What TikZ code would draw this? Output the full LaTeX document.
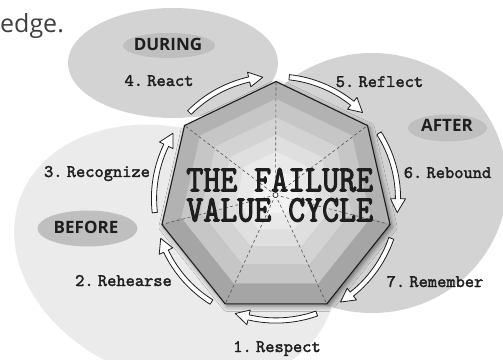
\documentclass[tikz,border=0pt]{standalone}
\usepackage{fontspec}
\setmainfont{Open Sans}
\newfontfamily\slabfont[FakeBold=2]{lmmono10-regular.otf}
\newfontfamily\titlefont[FakeStretch=0.86,FakeBold=2.6]{lmmono10-regular.otf}
\newcommand\steptype{\slabfont\fontsize{17.6}{20}\selectfont\spaceskip=1.2pt\relax}
\usetikzlibrary{calc,shadows.blur}

\definecolor{zoneDark}{HTML}{D3D3D3}
\definecolor{zoneLight}{HTML}{EBEBEB}
\definecolor{pillGray}{HTML}{BFBFBF}
\definecolor{ink}{HTML}{1E1E1E}
\definecolor{leadInk}{HTML}{404040}
\definecolor{spokeInk}{HTML}{555555}
\definecolor{ringA}{HTML}{B2B2B2}
\definecolor{ringB}{HTML}{C6C6C6}
\definecolor{ringC}{HTML}{D3D3D3}
\definecolor{ringD}{HTML}{DFDFDF}
\definecolor{ringE}{HTML}{E9E9E9}
\definecolor{ringF}{HTML}{F2F2F2}

\begin{document}
\begin{tikzpicture}[x=1pt,y=1pt,
  steplabel/.style={font=\steptype, text=ink, anchor=base, inner sep=0pt},
  phaselabel/.style={font=\bfseries\fontsize{17}{20}\selectfont, text=ink, inner sep=0pt},
  titlebox/.style={font=\titlefont\fontsize{37.6}{30}\selectfont, text=ink, align=center, inner sep=0pt},
  cyclearrow/.style={fill=white, draw=ink, line width=0.8pt, line join=round},
  spoke/.style={draw=spokeInk, dash pattern=on 3pt off 2.5pt, line width=0.6pt},
  hubmark/.style={circle, draw=ink, fill=white, inner sep=0pt, minimum size=5pt, line width=0.6pt}
]
\useasboundingbox (0,0) rectangle (503,359);

% phase zones
\fill[zoneLight, rotate around={-20:(175,104)}] (175,104) ellipse[x radius=165, y radius=125];
\fill[zoneDark] (372,176) ellipse[x radius=135, y radius=130];
\fill[zoneDark] (173,296) ellipse[x radius=105, y radius=55];

% phase pills
\fill[pillGray] (169,313.5) ellipse[x radius=46, y radius=12.5];
\fill[pillGray] (447.5,231) ellipse[x radius=39.5, y radius=13.5];
\fill[pillGray] (87.5,130.5) ellipse[x radius=50, y radius=18];
\node[phaselabel] (during) at (168,314.5) {DURING};
\node[phaselabel] (after) at (447,234) {AFTER};
\node[phaselabel] (before) at (86,131.5) {BEFORE};

% leftover heading text
\node[anchor=base west, inner sep=0pt, text=leadInk, font=\fontsize{25}{28}\selectfont] (lead) at (0,326) {edge.};

% heptagon
\coordinate (C) at (276,160.5);
\foreach \k in {0,...,6} \coordinate (v\k) at ($(C)+({90-\k*360/7}:117)$);
\foreach \k in {0,...,6} \coordinate (w\k) at ($(C)+(0,2.5)+({90-\k*360/7}:{117*0.83})$);

\fill[ringA, blur shadow={shadow xshift=2pt, shadow yshift=-2.5pt, shadow blur radius=5pt, shadow opacity=50}]
  (v0) -- (v1) -- (v2) -- (v3) -- (v4) -- (v5) -- (v6) -- cycle;
% darker lower faces of the outer band
\fill[black, opacity=0.07] (v2) -- (v3) -- (v4) -- (v5) -- (w5) -- (w4) -- (w3) -- (w2) -- cycle;
\foreach \s/\c/\dy in {0.83/ringB/2.5, 0.66/ringC/4, 0.5/ringD/5, 0.35/ringE/6, 0.2/ringF/6.5}{
  \fill[\c] ($(C)+(0,\dy)+(90:{117*\s})$)
    \foreach \k in {1,...,6}{ -- ($(C)+(0,\dy)+({90-\k*360/7}:{117*\s})$) } -- cycle;
}

% spokes to the hub
\coordinate (hubpt) at (275.5,164);
\foreach \k in {0,...,6} \draw[spoke] (hubpt) -- (v\k);
\node[hubmark] (hub) at (hubpt) {};

\draw[ink, line width=1.1pt, line join=round]
  (v0) -- (v1) -- (v2) -- (v3) -- (v4) -- (v5) -- (v6) -- cycle;

% title
\node[titlebox] (title) at (279.75,164) {THE FAILURE\\VALUE CYCLE};

% cycle arrows, running clockwise round the heptagon
\foreach \m in {64.29, 12.86, -38.57, -90, -141.43, -192.86, -244.29}{
  \pgfmathsetmacro\aS{\m+19.5}
  \pgfmathsetmacro\aT{\m-19.5}
  \pgfmathsetmacro\aH{\m-13}
  \draw[cyclearrow] ($(C)+(\aS:124.6)$) arc[start angle=\aS, end angle=\aH, radius=124.6]
    -- ($(C)+(\aH:129.5)$) -- ($(C)+(\aT:122)$) -- ($(C)+(\aH:114.5)$)
    -- ($(C)+(\aH:119.4)$) arc[start angle=\aH, end angle=\aS, radius=119.4] -- cycle;
}

% step labels
\node[steplabel] (s1) at (277,7) {1. Respect};
\node[steplabel] (s2) at (123.5,73) {2. Rehearse};
\node[steplabel] (s3) at (97,182) {3. Recognize};
\node[steplabel] (s4) at (159,273) {4. React};
\node[steplabel] (s5) at (379.5,272) {5. Reflect};
\node[steplabel] (s6) at (447.5,181) {6. Rebound};
\node[steplabel] (s7) at (435,72) {7. Remember};
\end{tikzpicture}
\end{document}
